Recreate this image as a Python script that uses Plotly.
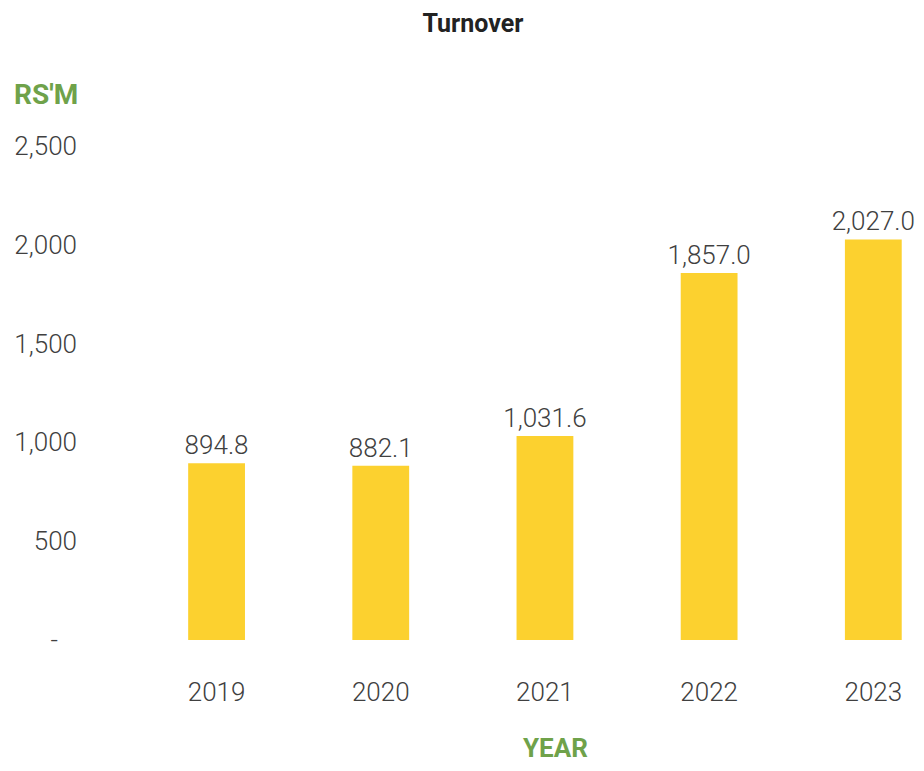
import plotly.graph_objects as go

# turnover in Rs million
years = [2019, 2020, 2021, 2022, 2023]
turnover = [894.8, 882.1, 1031.6, 1857.0, 2027.0]

y_ticks = [0, 500, 1000, 1500, 2000, 2500]
y_tick_labels = ["-\u00a0\u00a0\u00a0", "500", "1,000", "1,500", "2,000", "2,500"]

text_col = "#404040"
green = "#6FA24A"
font_fam = "Roboto, 'Open Sans', sans-serif"

fig = go.Figure(go.Bar(
    x=years, y=turnover,
    width=0.346,
    marker=dict(color="#FCD12F", line=dict(width=0)),
    texttemplate="%{y:,.1f}",
    textposition="outside",
    constraintext="none",
    textfont=dict(size=26, color=text_col, family=font_fam, weight=300),
    cliponaxis=False,
))

fig.update_layout(
    width=908, height=755,
    margin=dict(l=92, r=0, t=122, b=111),
    plot_bgcolor="white", paper_bgcolor="white",
    showlegend=False,
    font=dict(family=font_fam, size=26, color=text_col),
    title=dict(text="<b>Turnover</b>", x=0.512, xanchor="center", y=0.98, yanchor="middle",
               font=dict(size=25, color="#222222")),
    xaxis=dict(range=[2018.29, 2023.26], tickvals=years, ticktext=[str(y) for y in years],
               showgrid=False, zeroline=False, showline=False, ticks="",
               ticklabelstandoff=22, tickfont=dict(size=26, color=text_col, weight=300)),
    yaxis=dict(range=[-61, 2580.7], tickvals=y_ticks, ticktext=y_tick_labels,
               showgrid=False, zeroline=False, showline=False, ticks="",
               ticklabelstandoff=22, tickfont=dict(size=26, color=text_col, weight=300)),
    annotations=[
        dict(text="<b>RS'M</b>", xref="paper", yref="paper", x=-0.108, y=1.0,
             xanchor="left", yanchor="middle", yshift=36, showarrow=False,
             font=dict(size=28, color=green)),
        dict(text="<b>YEAR</b>", xref="paper", yref="paper", x=0.5576, y=0,
             xanchor="center", yanchor="middle", yshift=-96, showarrow=False,
             font=dict(size=26, color=green)),
    ],
)

fig.write_html("out.html")
